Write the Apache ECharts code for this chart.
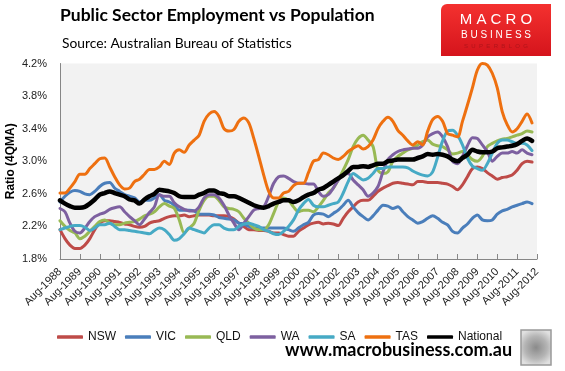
<!DOCTYPE html>
<html>
<head>
<meta charset="utf-8">
<script src="https://cdn.jsdelivr.net/npm/echarts@6/dist/echarts.min.js"></script>
<style>html,body{margin:0;padding:0;background:#fff;}#c{width:565px;height:371px;}</style>
</head>
<body>
<div id="c"></div>
<script>
// Quarterly categories Aug-1988 .. Aug-2012
const quarterMonths = ['Aug', 'Nov', 'Feb', 'May'];
const startYear = 1988;
const endYear = 2012;
const categories = [];
for (let y = startYear; y <= endYear; y++) {
  categories.push('Aug-' + y);
  if (y < endYear) {
    categories.push('Nov-' + y);
    categories.push('Feb-' + (y + 1));
    categories.push('May-' + (y + 1));
  }
}
const yTickLabels = ['1.8%', '2.2%', '2.6%', '3.0%', '3.4%', '3.8%', '4.2%'];
const seriesNames = ['NSW', 'VIC', 'QLD', 'WA', 'SA', 'TAS', 'National'];

const NSW = [2.16,2.05,1.97,1.93,1.93,1.97,2.05,2.16,2.24,2.27,2.27,2.26,2.25,2.23,2.22,2.20,2.19,2.20,2.24,2.26,2.27,2.30,2.32,2.33,2.33,2.34,2.32,2.33,2.34,2.34,2.34,2.33,2.33,2.33,2.32,2.29,2.24,2.20,2.16,2.16,2.15,2.15,2.14,2.12,2.12,2.10,2.08,2.08,2.14,2.18,2.22,2.24,2.25,2.23,2.24,2.23,2.21,2.30,2.38,2.44,2.50,2.52,2.52,2.57,2.63,2.67,2.70,2.73,2.74,2.73,2.72,2.71,2.75,2.75,2.74,2.74,2.74,2.73,2.72,2.69,2.65,2.71,2.81,2.91,2.93,2.91,2.86,2.82,2.78,2.80,2.81,2.83,2.89,2.97,3.00,2.99];
const VIC = [2.50,2.57,2.62,2.64,2.63,2.60,2.59,2.63,2.69,2.73,2.74,2.67,2.63,2.59,2.57,2.55,2.50,2.52,2.52,2.55,2.59,2.52,2.50,2.46,2.40,2.40,2.40,2.39,2.35,2.35,2.35,2.34,2.31,2.30,2.29,2.28,2.24,2.23,2.20,2.18,2.18,2.18,2.18,2.18,2.18,2.18,2.16,2.14,2.18,2.22,2.25,2.34,2.36,2.35,2.32,2.36,2.40,2.46,2.52,2.44,2.37,2.32,2.28,2.33,2.40,2.46,2.45,2.42,2.44,2.38,2.32,2.28,2.24,2.26,2.30,2.33,2.30,2.25,2.22,2.14,2.12,2.18,2.23,2.30,2.34,2.28,2.27,2.28,2.35,2.39,2.41,2.44,2.46,2.48,2.50,2.48];
const QLD = [2.27,2.20,2.15,2.12,2.05,2.08,2.14,2.20,2.26,2.28,2.24,2.22,2.22,2.24,2.25,2.26,2.29,2.33,2.35,2.38,2.44,2.48,2.45,2.42,2.28,2.12,2.18,2.24,2.40,2.52,2.57,2.57,2.52,2.44,2.42,2.41,2.38,2.30,2.24,2.18,2.16,2.16,2.22,2.36,2.50,2.55,2.52,2.44,2.38,2.40,2.40,2.38,2.44,2.52,2.61,2.67,2.77,2.89,3.02,3.18,3.28,3.32,3.26,3.18,2.89,2.85,2.87,3.00,3.06,3.10,3.14,3.16,3.20,3.24,3.26,3.21,3.19,3.18,3.14,3.09,3.10,3.12,3.08,3.02,3.00,3.06,3.18,3.22,3.25,3.27,3.28,3.30,3.32,3.34,3.37,3.36];
const WA = [2.42,2.38,2.24,2.14,2.12,2.18,2.26,2.32,2.35,2.37,2.41,2.43,2.44,2.38,2.32,2.27,2.22,2.29,2.37,2.44,2.59,2.57,2.57,2.49,2.44,2.41,2.39,2.39,2.44,2.55,2.59,2.59,2.55,2.46,2.34,2.24,2.16,2.24,2.32,2.40,2.42,2.44,2.57,2.73,2.81,2.82,2.79,2.75,2.73,2.73,2.72,2.72,2.63,2.57,2.59,2.67,2.77,2.83,2.85,2.77,2.71,2.65,2.57,2.61,2.69,2.87,3.02,3.08,3.12,3.14,3.15,3.16,3.16,3.20,3.30,3.34,3.36,3.30,3.18,3.00,2.97,3.06,3.19,3.29,3.28,3.20,3.12,3.00,3.06,3.10,3.10,3.12,3.10,3.14,3.10,3.08];
const SA = [2.16,2.18,2.20,2.21,2.21,2.19,2.15,2.18,2.22,2.22,2.24,2.20,2.16,2.16,2.15,2.14,2.13,2.12,2.11,2.15,2.18,2.16,2.10,2.03,2.05,2.11,2.18,2.16,2.14,2.12,2.18,2.22,2.22,2.18,2.16,2.16,2.20,2.23,2.24,2.22,2.20,2.16,2.14,2.11,2.10,2.14,2.20,2.28,2.40,2.48,2.53,2.46,2.44,2.44,2.46,2.48,2.50,2.61,2.75,2.85,2.81,2.77,2.79,2.85,2.91,2.91,2.93,2.93,2.93,2.93,2.92,2.88,2.85,2.83,2.82,2.87,3.05,3.25,3.37,3.38,3.32,3.20,3.04,2.94,2.91,2.89,2.97,3.10,3.22,3.26,3.26,3.24,3.22,3.22,3.20,3.13];
const TAS = [2.61,2.61,2.67,2.75,2.84,2.84,2.91,2.97,3.03,3.04,2.93,2.81,2.71,2.66,2.67,2.75,2.78,2.84,2.90,2.90,2.93,3.00,2.96,3.10,3.14,3.11,3.20,3.26,3.32,3.49,3.58,3.61,3.55,3.40,3.37,3.39,3.49,3.53,3.47,3.28,3.06,2.83,2.63,2.55,2.55,2.61,2.63,2.70,2.73,2.73,2.86,3.00,3.02,3.10,3.08,3.04,3.02,3.06,3.12,3.16,3.19,3.15,3.18,3.26,3.40,3.49,3.54,3.49,3.38,3.32,3.25,3.20,3.24,3.20,3.37,3.51,3.55,3.49,3.34,3.32,3.30,3.49,3.69,3.90,4.12,4.20,4.18,4.08,3.90,3.61,3.45,3.36,3.40,3.49,3.58,3.47];
const National = [2.52,2.48,2.45,2.43,2.43,2.44,2.48,2.53,2.59,2.61,2.63,2.61,2.59,2.57,2.53,2.52,2.48,2.53,2.57,2.60,2.65,2.64,2.63,2.61,2.57,2.56,2.56,2.56,2.59,2.61,2.64,2.64,2.61,2.60,2.57,2.57,2.55,2.52,2.49,2.46,2.44,2.43,2.45,2.48,2.50,2.52,2.52,2.50,2.52,2.56,2.59,2.61,2.65,2.67,2.71,2.75,2.79,2.83,2.88,2.93,2.93,2.94,2.93,2.95,2.97,2.97,3.00,3.01,3.02,3.02,3.02,3.02,3.04,3.06,3.09,3.08,3.09,3.08,3.06,3.02,3.00,3.04,3.08,3.14,3.12,3.11,3.11,3.12,3.16,3.17,3.18,3.19,3.21,3.25,3.28,3.25];

const seriesData = [NSW, VIC, QLD, WA, SA, TAS, National];
const seriesColors = ['#BE4B48', '#4A7EBB', '#98B954', '#7D60A0', '#46AAC5', '#EE7010', '#000000'];
const seriesWidths = [3, 3, 3, 3, 3, 3, 4.5];

const chart = echarts.init(document.getElementById('c'), null, { renderer: 'canvas' });
const FONT = 'Liberation Sans';

chart.setOption({
  animation: false,
  backgroundColor: '#ffffff',
  title: [
    { text: 'Public Sector Employment vs Population', left: 60, top: 6, padding: 0,
      textStyle: { fontFamily: 'Lato', fontWeight: 'bold', fontSize: 17.5, color: '#000' } },
    { text: 'Source: Australian Bureau of Statistics', left: 62, top: 37, padding: 0,
      textStyle: { fontFamily: 'Lato', fontWeight: 'normal', fontSize: 13.8, color: '#000' } }
  ],
  legend: {
    data: seriesNames.map(function (n) { return { name: n, icon: 'roundRect' }; }),
    left: 52, top: 326,
    itemWidth: 26, itemHeight: 3.5, itemGap: 9,
    textStyle: { fontFamily: FONT, fontSize: 12, color: '#111' }
  },
  grid: { left: 60, right: 28, top: 63.5, bottom: 112, show: true, backgroundColor: '#F2F2F2', borderWidth: 0, outerBoundsMode: 'none' },
  xAxis: {
    type: 'category', data: categories, boundaryGap: false,
    axisLine: { lineStyle: { color: '#868686', width: 1 } },
    axisTick: { show: true, inside: true, length: 5, interval: 3, lineStyle: { color: '#868686' } },
    axisLabel: { interval: 3, rotate: 45, fontFamily: FONT, fontSize: 11, color: '#222', margin: 11 },
    splitLine: { show: false }
  },
  yAxis: {
    type: 'value', min: 1.8, max: 4.2, interval: 0.2,
    name: 'Ratio (4QMA)', nameLocation: 'middle', nameGap: 43, nameMoveOverlap: false,
    nameTextStyle: { fontFamily: FONT, fontWeight: 'bold', fontSize: 12, color: '#000' },
    axisLine: { show: true, lineStyle: { color: '#868686', width: 1 } },
    axisTick: { show: false },
    splitLine: { show: false },
    axisLabel: {
      fontFamily: FONT, fontSize: 11, color: '#222', margin: 13,
      formatter: function (v) {
        const k = Math.round(v * 10);
        if (k % 4 !== 2) return '';
        const lbl = (k / 10).toFixed(1) + '%';
        return yTickLabels.indexOf(lbl) >= 0 ? lbl : '';
      }
    }
  },
  series: seriesNames.map(function (n, i) {
    return {
      name: n, type: 'line', data: seriesData[i], symbol: 'none', smooth: 0.3,
      lineStyle: { color: seriesColors[i], width: seriesWidths[i], cap: 'round', join: 'round' },
      itemStyle: { color: seriesColors[i] },
      z: i === 6 ? 5 : 2
    };
  }),
  graphic: [
    { type: 'rect', shape: { x: 441, y: 4, width: 110, height: 52, r: [6, 0, 0, 0] },
      style: { fill: new echarts.graphic.LinearGradient(0, 0, 0, 1, [
        { offset: 0, color: '#F4312F' }, { offset: 1, color: '#D5141C' }]) } },
    { type: 'text', x: 496, y: 20, style: { text: 'M A C R O', fill: '#fff', font: '15px "Liberation Sans"', align: 'center', verticalAlign: 'middle' } },
    { type: 'text', x: 496, y: 35, style: { text: 'B U S I N E S S', fill: '#fff', font: '10px "Liberation Sans"', align: 'center', verticalAlign: 'middle' } },
    { type: 'text', x: 496, y: 46, style: { text: 'S  U  P  E  R  B  L  O  G', fill: '#B0141A', font: '6px "Liberation Sans"', align: 'center', verticalAlign: 'middle' } },
    { type: 'text', x: 285, y: 350, style: { text: 'www.macrobusiness.com.au', fill: '#000', font: 'bold 18px Lato', align: 'left', verticalAlign: 'middle' } },
    { type: 'rect', shape: { x: 521, y: 330, width: 30, height: 35 },
      style: { fill: new echarts.graphic.RadialGradient(0.5, 0.5, 0.6, [
        { offset: 0, color: '#8a8a8a' }, { offset: 0.6, color: '#b5b5b5' }, { offset: 1, color: '#e0e0e0' }]), stroke: '#999', lineWidth: 1.5 } }
  ]
});
</script>
</body>
</html>
